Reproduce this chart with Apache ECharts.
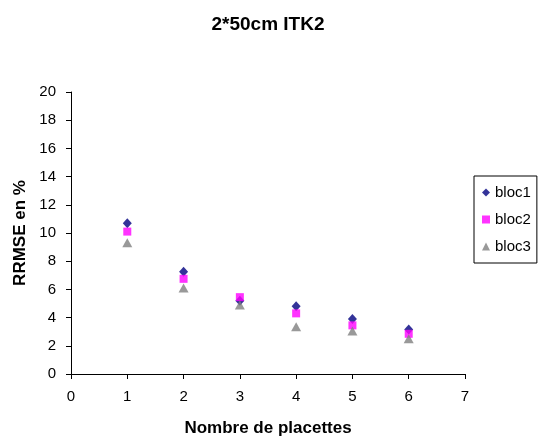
<!DOCTYPE html>
<html>
<head>
<meta charset="utf-8">
<script src="https://cdn.jsdelivr.net/npm/echarts@6/dist/echarts.min.js"></script>
<style>
  html, body { margin: 0; padding: 0; background: #fff; }
  #chart { width: 542px; height: 443px; }
</style>
</head>
<body>
<div id="chart"></div>
<script>
const placettes = [1, 2, 3, 4, 5, 6];
const bloc1 = [10.7, 7.25, 5.2, 4.8, 3.9, 3.15];
const bloc2 = [10.1, 6.75, 5.45, 4.3, 3.45, 2.85];
const bloc3 = [9.3, 6.1, 4.9, 3.35, 3.05, 2.5];

const chart = echarts.init(document.getElementById("chart"));
const font = "Liberation Sans, Arial, sans-serif";

const pairs = (vals) => placettes.map((x, i) => [x, vals[i]]);

const option = {
  animation: false,
  title: {
    text: "2*50cm ITK2",
    left: 263,
    textAlign: "center",
    top: 10,
    textStyle: { fontFamily: font, fontSize: 19, fontWeight: "bold", color: "#000" },
  },
  grid: { left: 71, top: 92, right: 77, bottom: 69 },
  legend: {
    orient: "vertical",
    left: 474,
    top: 176,
    padding: [9, 6, 9, 8],
    itemGap: 12,
    itemWidth: 8,
    itemHeight: 8,
    borderColor: "#000",
    borderWidth: 1,
    textStyle: { fontFamily: font, fontSize: 15, color: "#000" },
    data: ["bloc1", "bloc2", "bloc3"],
  },
  xAxis: {
    type: "value",
    min: 0,
    max: 7,
    interval: 1,
    name: "Nombre de placettes",
    nameLocation: "middle",
    nameGap: 46,
    nameTextStyle: { fontFamily: font, fontSize: 17, fontWeight: "bold", color: "#000" },
    axisLine: { lineStyle: { color: "#000" } },
    axisTick: { show: true, length: 5, lineStyle: { color: "#000" } },
    axisLabel: { fontFamily: font, fontSize: 15, color: "#000", margin: 15 },
    splitLine: { show: false },
  },
  yAxis: {
    type: "value",
    min: 0,
    max: 20,
    interval: 2,
    name: "RRMSE en %",
    nameLocation: "middle",
    nameGap: 38,
    nameTextStyle: { fontFamily: font, fontSize: 17, fontWeight: "bold", color: "#000" },
    axisLine: { show: true, lineStyle: { color: "#000" } },
    axisTick: { show: true, length: 5, lineStyle: { color: "#000" } },
    axisLabel: { fontFamily: font, fontSize: 15, color: "#000", margin: 15 },
    splitLine: { show: false },
  },
  series: [
    {
      name: "bloc1",
      type: "scatter",
      symbol: "diamond",
      symbolSize: [9, 10],
      itemStyle: { color: "#000080" },
      data: pairs(bloc1),
      z: 3,
    },
    {
      name: "bloc2",
      type: "scatter",
      symbol: "rect",
      symbolSize: 8,
      itemStyle: { color: "#FF00FF" },
      data: pairs(bloc2),
      z: 4,
    },
    {
      name: "bloc3",
      type: "scatter",
      symbol: "triangle",
      symbolSize: [10, 9],
      itemStyle: { color: "#808080" },
      data: pairs(bloc3),
      z: 5,
    },
  ],
};

chart.setOption(option);
</script>
</body>
</html>
